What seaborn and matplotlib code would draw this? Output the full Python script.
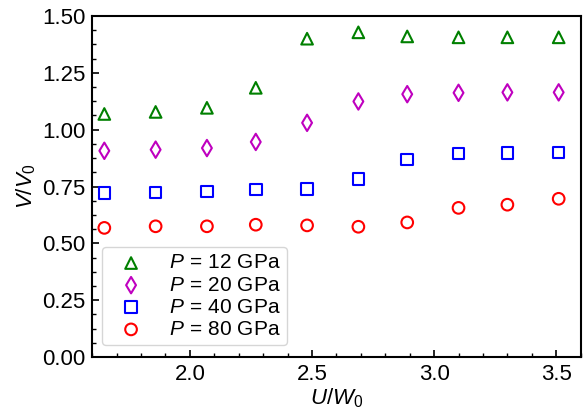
import numpy as np
import pandas as pd
import matplotlib
matplotlib.use("Agg")
import matplotlib.pyplot as plt
import seaborn as sns
from matplotlib.ticker import AutoMinorLocator, MultipleLocator

u_w0 = [1.65, 1.86, 2.07, 2.27, 2.48, 2.69, 2.89, 3.10, 3.30, 3.51]
v_p12 = [1.069, 1.078, 1.096, 1.184, 1.400, 1.428, 1.410, 1.406, 1.406, 1.406]
v_p20 = [0.907, 0.912, 0.919, 0.946, 1.030, 1.124, 1.156, 1.162, 1.164, 1.164]
v_p40 = [0.721, 0.724, 0.728, 0.736, 0.740, 0.783, 0.869, 0.895, 0.896, 0.900]
v_p80 = [0.568, 0.575, 0.575, 0.582, 0.579, 0.573, 0.592, 0.656, 0.670, 0.696]
labels = ["$P\\,=\\,12$ GPa", "$P\\,=\\,20$ GPa", "$P\\,=\\,40$ GPa", "$P\\,=\\,80$ GPa"]

sns.set_style("ticks")
plt.rcParams["font.family"] = ["Liberation Sans", "DejaVu Sans"]
plt.rcParams["mathtext.fontset"] = "custom"
plt.rcParams["mathtext.rm"] = "Liberation Sans"
plt.rcParams["mathtext.it"] = "Liberation Sans:italic"
plt.rcParams["font.size"] = 16
plt.rcParams["text.color"] = "black"
plt.rcParams["axes.labelcolor"] = "black"
plt.rcParams["xtick.color"] = "black"
plt.rcParams["ytick.color"] = "black"

fig = plt.figure(figsize=(5.83, 4.09), dpi=100)
ax = fig.add_axes([0.158, 0.127, 0.838, 0.834])

series = [v_p12, v_p20, v_p40, v_p80]
markers = ["^", "d", "s", "o"]
colors = ["#008000", "#bf00bf", "#0000ff", "#ff0000"]
for vals, m, c, lab in zip(series, markers, colors, labels):
    df = pd.DataFrame({"x": u_w0, "y": vals})
    sns.scatterplot(data=df, x="x", y="y", marker=m, s=70, facecolor="none",
                    edgecolor=c, linewidth=1.5, label=lab, ax=ax)

ax.set_xlim(1.6, 3.6)
ax.set_ylim(0, 1.5)
ax.xaxis.set_major_locator(MultipleLocator(0.5))
ax.yaxis.set_major_locator(MultipleLocator(0.25))
ax.xaxis.set_minor_locator(AutoMinorLocator(5))
ax.yaxis.set_minor_locator(AutoMinorLocator(4))
ax.tick_params(which="both", direction="in", colors="black", labelsize=16)
ax.tick_params(which="major", length=5, width=1.2, pad=5)
ax.tick_params(which="minor", length=3, width=1.0)
ax.yaxis.set_major_formatter(matplotlib.ticker.FormatStrFormatter("%.2f"))
ax.xaxis.set_major_formatter(matplotlib.ticker.FormatStrFormatter("%.1f"))
for sp in ax.spines.values():
    sp.set_linewidth(1.5)
    sp.set_color("black")
ax.set_xlabel("$U/W_0$", fontsize=16, labelpad=1, color="black")
ax.set_ylabel("$V/V_0$", fontsize=16, labelpad=3, color="black")
leg = ax.legend(loc="lower left", bbox_to_anchor=(0.02, 0.035), borderaxespad=0,
                fontsize=15, handlelength=2.2, handletextpad=0.72,
                labelspacing=0.15, borderpad=0.3, scatterpoints=1,
                frameon=True, edgecolor="#cccccc")
for t in leg.get_texts():
    t.set_color("black")

fig.savefig("out.png", dpi=100)
